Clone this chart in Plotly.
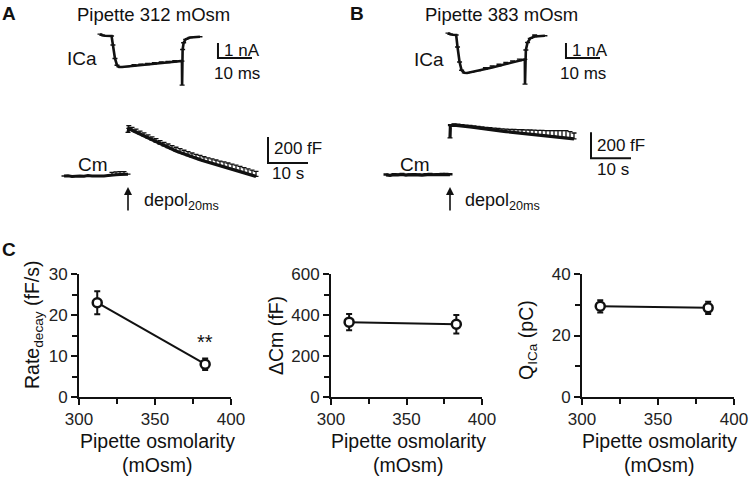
import plotly.graph_objects as go

W, H = 750, 477
FONT = "Liberation Sans, Arial, sans-serif"
INK = "#111111"

# ---------------- Panel A / B: ICa traces (time in ms, current in nA) ----------------
ica_a_t = [0, 0.6, 1.5, 3.4, 3.8, 4.4, 5.0, 5.6, 6.5, 8, 10, 12, 14, 16, 18, 20, 22, 24.1, 24.15, 24.3, 24.6, 25.2, 26.5, 29.4]
ica_a_i = [0.12, 0.05, 0.02, 0, -0.6, -1.5, -1.95, -2.06, -2.07, -2.04, -1.99, -1.95, -1.9, -1.86, -1.81, -1.77, -1.72, -1.67, -3.27, -0.9, -0.45, -0.22, -0.1, -0.05]
ica_a_sem = [None] * 10 + [0.08, 0.08, 0.07, 0.08, 0.08, 0.07, 0.08] + [None] * 7

ica_b_t = [0, 0.6, 1.5, 2.4, 2.8, 3.4, 4.0, 4.8, 5.6, 7, 9, 11, 13, 15, 17, 19, 21, 22.6, 22.65, 22.9, 23.4, 24.2, 25.5, 28.5]
ica_b_i = [0.12, 0.05, 0.02, 0, -0.8, -1.8, -2.35, -2.52, -2.53, -2.47, -2.37, -2.27, -2.16, -2.05, -1.93, -1.82, -1.71, -1.62, -3.27, -1.0, -0.5, -0.22, -0.1, -0.05]
ica_b_sem = [None] * 11 + [0.1, 0.1, 0.1, 0.1, 0.1, 0.1] + [None] * 5 + [0.1, None]

# ---------------- Panel A / B: Cm traces (time in s, capacitance in fF) ----------------
cm_base_t = [-16, -15, -14, -13, -12, -11, -10, -9, -8, -7, -6, -5, -4, -3, -2, -1, 0]
cm_a_base = [0, 2, -3, 1, 0, -2, 3, 0, -1, 2, 0, 3, 8, 10, 12, 13, 14]
cm_a_base_sem = [None] * 12 + [20, 22, 22, 20, None]
cm_b_base = [0, -3, 2, 0, 4, -2, 1, 3, 0, -1, 2, 4, 1, 3, 5, 4, 2]
cm_b_base_sem = [8] * 17

cm_a_t = [0, 0.2] + list(range(1, 33))
cm_a_c = [335, 366, 352, 337, 322, 307, 292, 276, 261, 246, 232, 218, 205, 192, 180, 168, 157,
          146, 136, 126, 116, 107, 98, 89, 81, 73, 65, 56, 47, 37, 27, 17, 7, -3]
cm_a_sem = [None, 22, 22, 23, 23, 24, 25, 25, 26, 26, 27, 28, 28, 29, 30, 30, 30,
            31, 31, 32, 32, 33, 33, 34, 34, 35, 35, 36, 36, 37, 37, 38, 38, 38]

cm_b_t = [0, 0.1] + list(range(1, 32))
cm_b_c = [285, 380, 384, 382, 378, 374, 370, 366, 361, 357, 353, 349, 345, 341, 337, 334, 331,
          328, 325, 322, 319, 316, 313, 310, 307, 304, 301, 298, 294, 290, 286, 282, 278]
cm_b_sem = [None, 8, 9, 9, 10, 10, 11, 12, 12, 13, 14, 15, 16, 17, 18, 19, 20,
            22, 24, 26, 28, 30, 32, 34, 36, 38, 40, 44, 48, 52, 55, 52, 45]

# scale bars: (time, amplitude)
ica_bar = (10, 1)      # 10 ms, 1 nA
cm_bar = (10, 200)     # 10 s, 200 fF

# ---------------- Panel C: summary data ----------------
osm = [312, 383]
rate_decay = [23, 8]
rate_decay_sem = [2.8, 1.4]
delta_cm = [365, 355]
delta_cm_sem = [40, 45]
q_ica = [29.5, 29]
q_ica_sem = [2, 2]


def px(x):
    return x / W


def py(y):
    return 1 - y / H


def ax_id(n):
    return "" if n == 1 else str(n)


fig = go.Figure()


def trace_axes(n, ox, oy, sx, sy):
    # invisible axes covering the page, so data units map to pixels at the given scale
    s = ax_id(n)
    fig.update_layout(**{
        f"xaxis{s}": dict(domain=[0, 1], range=[-ox / sx, (W - ox) / sx], visible=False,
                          anchor=f"y{s}", fixedrange=True, automargin=False),
        f"yaxis{s}": dict(domain=[0, 1], range=[-(H - oy) / sy, oy / sy], visible=False,
                          anchor=f"x{s}", fixedrange=True, automargin=False),
    })


def add_line(n, x, y, width, sem=None, cap=2.5, ethick=1.3):
    s = ax_id(n)
    kw = {}
    if sem is not None:
        kw["error_y"] = dict(type="data", symmetric=False, array=sem,
                             arrayminus=[0] * len(sem), color=INK, thickness=ethick, width=cap)
    fig.add_trace(go.Scatter(x=x, y=y, mode="lines", line=dict(color=INK, width=width),
                             xaxis=f"x{s}", yaxis=f"y{s}", showlegend=False, hoverinfo="skip", **kw))


def add_bar(n, x0, y0, size):
    s = ax_id(n)
    fig.add_trace(go.Scatter(x=[x0, x0, x0 + size[0]], y=[y0 + size[1], y0, y0], mode="lines",
                             line=dict(color=INK, width=2), xaxis=f"x{s}", yaxis=f"y{s}",
                             showlegend=False, hoverinfo="skip"))


# axes 1..4 are the raw traces
trace_axes(1, 100, 36, 3.4, 15)
trace_axes(2, 448, 35, 3.4, 15)
trace_axes(3, 128, 176, 4, 0.13)
trace_axes(4, 450, 175, 4, 0.13)

add_line(1, ica_a_t, ica_a_i, 2.6, ica_a_sem)
add_line(2, ica_b_t, ica_b_i, 2.6, ica_b_sem)
add_line(3, cm_base_t, cm_a_base, 3, cm_a_base_sem)
add_line(3, cm_a_t, cm_a_c, 3.2, cm_a_sem)
add_line(4, cm_base_t, cm_b_base, 3, cm_b_base_sem)
add_line(4, cm_b_t, cm_b_c, 3.2, cm_b_sem)

add_bar(1, 34.7, -1.47, ica_bar)
add_bar(2, 34.7, -1.53, ica_bar)
add_bar(3, 35, 100, cm_bar)
add_bar(4, 35.25, 128, cm_bar)

# ---------------- Panel C axes ----------------
c_specs = [
    (5, 79, 231, rate_decay, rate_decay_sem, [0, 30], [0, 10, 20, 30], [5, 15, 25]),
    (6, 331, 482, delta_cm, delta_cm_sem, [0, 600], [0, 200, 400, 600], [100, 300, 500]),
    (7, 582, 734, q_ica, q_ica_sem, [0, 40], [0, 20, 40], [10, 30]),
]
for n, x0, x1, vals, sems, yr, yt, ym in c_specs:
    s = ax_id(n)
    axis_common = dict(showline=True, linecolor=INK, linewidth=2, ticks="outside", ticklen=6,
                       tickwidth=2, tickcolor=INK, showgrid=False, zeroline=False, fixedrange=True,
                       automargin=False, tickfont=dict(family=FONT, size=17, color="#222222"))
    fig.update_layout(**{
        f"xaxis{s}": dict(domain=[px(x0), px(x1)], range=[300, 400], tickvals=[300, 350, 400],
                          minor=dict(tickvals=[325, 375], ticks="outside", ticklen=5, tickwidth=2,
                                     tickcolor=INK),
                          anchor=f"y{s}", **axis_common),
        f"yaxis{s}": dict(domain=[py(397), py(274)], range=yr, tickvals=yt,
                          minor=dict(tickvals=ym, ticks="outside", ticklen=5, tickwidth=2,
                                     tickcolor=INK),
                          anchor=f"x{s}", **axis_common),
    })
    fig.add_trace(go.Scatter(
        x=osm, y=vals, mode="lines+markers", xaxis=f"x{s}", yaxis=f"y{s}",
        line=dict(color=INK, width=2),
        marker=dict(symbol="circle", size=9, color="white", line=dict(color=INK, width=2.5)),
        error_y=dict(type="data", array=sems, color=INK, thickness=2, width=3),
        cliponaxis=False, showlegend=False, hoverinfo="skip"))

# ---------------- text ----------------
def text(x, y, t, size=18, xanchor="center", yanchor="middle", angle=0, bold=False, xref="paper"):
    if bold:
        t = f"<b>{t}</b>"
    fig.add_annotation(x=x, y=py(y), xref=xref, yref="paper", text=t, showarrow=False,
                       xanchor=xanchor, yanchor=yanchor, textangle=angle,
                       font=dict(family=FONT, size=size, color="#111111"))


text(px(9), 14, "A", 19, bold=True)
text(px(357), 14, "B", 19, bold=True)
text(px(9), 249, "C", 19, bold=True)

text(px(153), 15, "Pipette 312 mOsm", 18.5)
text(px(501), 15, "Pipette 383 mOsm", 18.5)

text(px(82), 58, "ICa", 19)
text(px(429), 59, "ICa", 19)
text(px(93), 164, "Cm", 19)
text(px(415), 164, "Cm", 19)

text(px(222), 50, "1 nA", 17, xanchor="left")
text(px(237), 73, "10 ms", 17)
text(px(570), 50, "1 nA", 17, xanchor="left")
text(px(583), 73, "10 ms", 17)
text(px(272), 148, "200 fF", 17, xanchor="left")
text(px(270), 173, "10 s", 17, xanchor="left")
text(px(595), 145, "200 fF", 17, xanchor="left")
text(px(595), 169, "10 s", 17, xanchor="left")

text(px(142), 201, "depol<sub>20ms</sub>", 18, xanchor="left")
text(px(463), 201, "depol<sub>20ms</sub>", 18, xanchor="left")

for xref in ["x3", "x4"]:
    fig.add_annotation(x=0, y=py(187), xref=xref, yref="paper", ax=0, ay=25, text="",
                       showarrow=True, arrowhead=2, arrowsize=1, arrowwidth=1.6, arrowcolor=INK,
                       standoff=0, startstandoff=0)

# y-axis titles of panel C
text(px(33), 325, "Rate<sub>decay</sub> (fF/s)", 19.5, angle=-90)
text(px(276), 336, "\u0394Cm (fF)", 19.5, angle=-90)
text(px(527), 340, "Q<sub>ICa</sub> (pC)", 19.5, angle=-90)

# x-axis titles of panel C
for cx in [157, 408, 659]:
    text(px(cx), 441, "Pipette osmolarity", 19.5)
    text(px(cx), 465, "(mOsm)", 19.5)

# significance
fig.add_annotation(x=383, y=13.3, xref="x5", yref="y5", text="**", showarrow=False,
                   font=dict(family=FONT, size=20, color=INK), yanchor="middle")

fig.update_layout(width=W, height=H,
                  margin=dict(l=0, r=0, t=0, b=0, pad=0, autoexpand=False),
                  paper_bgcolor="white", plot_bgcolor="rgba(0,0,0,0)",
                  font=dict(family=FONT, color=INK), showlegend=False)

# the page body has a default 8px margin; drop it so the figure fills the window
fig.write_html("out.html", config={"displayModeBar": False},
               post_script="document.body.style.margin = '0px';")
